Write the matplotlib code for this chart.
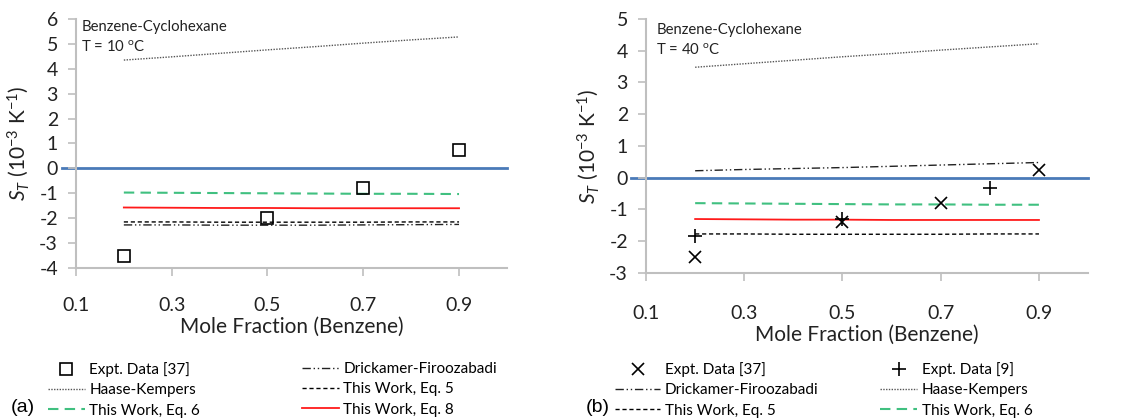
import matplotlib
matplotlib.use("Agg")
import matplotlib.pyplot as plt

plt.rcParams['font.family'] = ['Lato', 'DejaVu Sans']
plt.rcParams['mathtext.fontset'] = 'custom'
plt.rcParams['mathtext.rm'] = 'Lato'
plt.rcParams['mathtext.it'] = 'Lato:italic'

# ---------------- data ----------------
x_model = [0.2, 0.3, 0.4, 0.5, 0.6, 0.7, 0.8, 0.9]

# Panel (a) T = 10 C
a_expt37_x = [0.2, 0.5, 0.7, 0.9]
a_expt37_y = [-3.5, -2.0, -0.8, 0.75]
a_haase = [4.35, 4.48, 4.62, 4.76, 4.89, 5.03, 5.16, 5.28]
a_drick = [-2.27, -2.27, -2.28, -2.28, -2.28, -2.27, -2.26, -2.25]
a_eq5 = [-2.15, -2.15, -2.16, -2.16, -2.16, -2.16, -2.15, -2.15]
a_eq6 = [-0.97, -0.98, -0.99, -1.00, -1.01, -1.02, -1.02, -1.03]
a_eq8 = [-1.57, -1.58, -1.59, -1.59, -1.60, -1.60, -1.60, -1.60]

# Panel (b) T = 40 C
b_expt37_x = [0.2, 0.5, 0.7, 0.9]
b_expt37_y = [-2.5, -1.4, -0.8, 0.25]
b_expt9_x = [0.2, 0.5, 0.8]
b_expt9_y = [-1.85, -1.3, -0.33]
b_haase = [3.48, 3.59, 3.70, 3.81, 3.91, 4.02, 4.12, 4.22]
b_drick = [0.22, 0.26, 0.29, 0.32, 0.36, 0.40, 0.44, 0.48]
b_eq5 = [-1.77, -1.77, -1.78, -1.78, -1.78, -1.78, -1.77, -1.77]
b_eq6 = [-0.80, -0.81, -0.82, -0.83, -0.84, -0.84, -0.85, -0.85]
b_eq8 = [-1.30, -1.31, -1.32, -1.32, -1.33, -1.33, -1.33, -1.33]

x_ticks = [0.1, 0.3, 0.5, 0.7, 0.9]
x_ticklabels = ['0.1', '0.3', '0.5', '0.7', '0.9']

# ---------------- styles ----------------
GRAY = '#bfbfbf'
TXT = '#222222'
st_haase = dict(color='#555555', lw=1.0, ls=(0, (1, 1)))
st_drick = dict(color='#222222', lw=1.0, ls=(0, (6, 2, 1, 2, 1, 2)))
st_eq5 = dict(color='black', lw=1.0, ls=(0, (3, 2)))
st_eq6 = dict(color='#40c080', lw=1.5, ls=(0, (5, 3)))
st_eq8 = dict(color='#ff1a1a', lw=1.3, ls='-')

fig = plt.figure(figsize=(11.32, 4.2), dpi=100)
axA = fig.add_axes([0.0671, 0.3619, 0.3807, 0.5929])
axB = fig.add_axes([0.5707, 0.35, 0.3905, 0.6048])


def style_axis(ax, ylim, yticks, xpad, ypad):
    ax.set_xlim(0.1, 1.0)
    ax.set_ylim(*ylim)
    ax.set_xticks(x_ticks)
    ax.set_xticklabels(x_ticklabels)
    ax.set_yticks(yticks)
    ax.set_yticklabels([str(t) for t in yticks])
    for s in ['top', 'right']:
        ax.spines[s].set_visible(False)
    for s in ['left', 'bottom']:
        ax.spines[s].set_color(GRAY)
        ax.spines[s].set_linewidth(1.5)
    ax.tick_params(axis='x', colors=GRAY, length=6, width=1.2, pad=xpad,
                   labelcolor=TXT, labelsize=14)
    ax.tick_params(axis='y', colors=GRAY, length=6, width=1.2, pad=ypad,
                   labelcolor=TXT, labelsize=14)
    ax.axhline(0, xmin=-0.033, xmax=1.0, color='#4a7ab8', lw=2.0, clip_on=False, zorder=1)
    ax.set_xlabel('Mole Fraction (Benzene)', fontsize=15, labelpad=2, color=TXT)
    ax.set_ylabel('$S_T$ (10$^{-3}$ K$^{-1}$)', fontsize=15, labelpad=6, color=TXT)


# Panel (a)
style_axis(axA, (-4, 6), [-4, -3, -2, -1, 0, 1, 2, 3, 4, 5, 6], xpad=15, ypad=7)
hA_haase, = axA.plot(x_model, a_haase, **st_haase)
hA_drick, = axA.plot(x_model, a_drick, **st_drick)
hA_eq5, = axA.plot(x_model, a_eq5, **st_eq5)
hA_eq6, = axA.plot(x_model, a_eq6, **st_eq6)
hA_eq8, = axA.plot(x_model, a_eq8, **st_eq8)
hA_ex, = axA.plot(a_expt37_x, a_expt37_y, ls='none', marker='s', ms=9,
                  mfc='none', mec='black', mew=1.2, zorder=5)
axA.text(0.012, 0.995, 'Benzene-Cyclohexane', transform=axA.transAxes, fontsize=10.7,
         va='top', ha='left', color=TXT)
axA.text(0.012, 0.915, 'T = 10 $^{\\mathrm{o}}$C', transform=axA.transAxes, fontsize=10.7,
         va='top', ha='left', color=TXT)

# Panel (b)
style_axis(axB, (-3, 5), [-3, -2, -1, 0, 1, 2, 3, 4, 5], xpad=17, ypad=7)
hB_haase, = axB.plot(x_model, b_haase, **st_haase)
hB_drick, = axB.plot(x_model, b_drick, **st_drick)
hB_eq5, = axB.plot(x_model, b_eq5, **st_eq5)
hB_eq6, = axB.plot(x_model, b_eq6, **st_eq6)
hB_eq8, = axB.plot(x_model, b_eq8, **st_eq8)
hB_ex37, = axB.plot(b_expt37_x, b_expt37_y, ls='none', marker='x', ms=9,
                    mec='black', mew=1.2, zorder=5)
hB_ex9, = axB.plot(b_expt9_x, b_expt9_y, ls='none', marker='+', ms=10,
                   mec='black', mew=1.2, zorder=5)
axB.text(0.023, 0.985, 'Benzene-Cyclohexane', transform=axB.transAxes, fontsize=10.7,
         va='top', ha='left', color=TXT)
axB.text(0.023, 0.905, 'T = 40 $^{\\mathrm{o}}$C', transform=axB.transAxes, fontsize=10.7,
         va='top', ha='left', color=TXT)

# ---------------- legends ----------------
leg_kw = dict(frameon=False, fontsize=11, labelspacing=0.42, handletextpad=0.3,
              borderpad=0, borderaxespad=0, loc='upper left')
LEG_TOP = 1 - 362 / 420

fig.legend([hA_ex, hA_haase, hA_eq6],
           ['Expt. Data [37]', 'Haase-Kempers', 'This Work, Eq. 6'],
           bbox_to_anchor=(48 / 1132, LEG_TOP), handlelength=2.4, **leg_kw)
fig.legend([hA_drick, hA_eq5, hA_eq8],
           ['Drickamer-Firoozabadi', 'This Work, Eq. 5', 'This Work, Eq. 8'],
           bbox_to_anchor=(302 / 1132, LEG_TOP), handlelength=2.4, **leg_kw)
fig.legend([hB_ex37, hB_drick, hB_eq5],
           ['Expt. Data [37]', 'Drickamer-Firoozabadi', 'This Work, Eq. 5'],
           bbox_to_anchor=(615 / 1132, LEG_TOP), handlelength=2.95, **leg_kw)
fig.legend([hB_ex9, hB_haase, hB_eq6],
           ['Expt. Data [9]', 'Haase-Kempers', 'This Work, Eq. 6'],
           bbox_to_anchor=(880 / 1132, LEG_TOP), handlelength=2.45, **leg_kw)

fig.text(11 / 1132, 1 - 408 / 420, '(a)', fontsize=14, va='center', ha='left',
         family=['Liberation Sans', 'DejaVu Sans'])
fig.text(586 / 1132, 1 - 408 / 420, '(b)', fontsize=14, va='center', ha='left',
         family=['Liberation Sans', 'DejaVu Sans'])

fig.savefig('out.png', dpi=100)
